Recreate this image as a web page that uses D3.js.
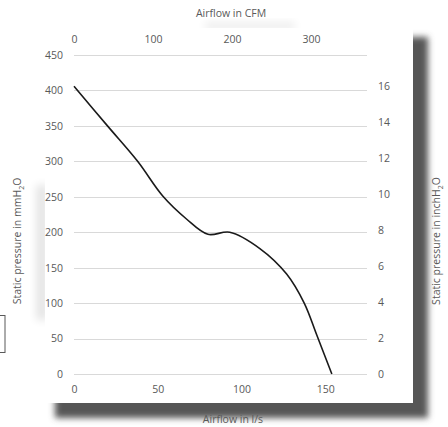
<!DOCTYPE html>
<html><head><meta charset="utf-8">
<script src="https://cdn.jsdelivr.net/npm/d3@7"></script>
<style>
body{margin:0;background:#fff;}
svg{display:block;font-family:"Open Sans","Liberation Sans",sans-serif;}
</style></head>
<body><svg id="c" width="448" height="427"></svg>
<script>
// Data: airflow (l/s) vs static pressure (mmH2O)
const airflowLs = [0, 20, 38, 53, 67, 80, 93, 111, 127, 137.5, 145, 154];
const pressureMm = [406, 350, 300, 251, 219, 197, 200, 177, 141, 100, 55, 0];
const bottomTicks = [0, 50, 100, 150];
const topTicks = [0, 100, 200, 300];
const leftTicks = [0, 50, 100, 150, 200, 250, 300, 350, 400, 450];
const rightTicks = [0, 2, 4, 6, 8, 10, 12, 14, 16];
const LS_TO_CFM = 2.11888;
const MM_TO_IN = 1 / 25.4;

const svg = d3.select("#c");
const defs = svg.append("defs");
defs.append("filter").attr("id","sh").attr("x","-20%").attr("y","-20%").attr("width","140%").attr("height","140%")
  .append("feGaussianBlur").attr("stdDeviation", 3);
defs.append("filter").attr("id","sh2").attr("x","-50%").attr("y","-50%").attr("width","200%").attr("height","200%")
  .append("feGaussianBlur").attr("stdDeviation", 4);

// decorative shadows
svg.append("rect").attr("x",205).attr("y",22).attr("width",90).attr("height",8)
  .attr("fill","#000").attr("opacity",0.07).attr("filter","url(#sh2)");
svg.append("rect").attr("x",36).attr("y",185).attr("width",12).attr("height",135)
  .attr("fill","#000").attr("opacity",0.1).attr("filter","url(#sh2)");
svg.append("rect").attr("x",55).attr("y",37).attr("width",373).attr("height",381)
  .attr("fill","#575757").attr("filter","url(#sh)");
svg.append("rect").attr("x",45).attr("y",28).attr("width",368).attr("height",375).attr("fill","#fff");

// small partial box at left edge
svg.append("rect").attr("x",-10).attr("y",315.5).attr("width",15).attr("height",37)
  .attr("fill","#fff").attr("stroke","#595959").attr("stroke-width",1);

const x = d3.scaleLinear().domain([0,175]).range([74,367]);
const xTop = d3.scaleLinear().domain([0,175*LS_TO_CFM]).range([74,367]);
const y = d3.scaleLinear().domain([0,450]).range([374,55]);
const yR = d3.scaleLinear().domain([0,450*MM_TO_IN]).range([374,55]);

// gridlines
svg.append("g").selectAll("line").data(leftTicks).join("line")
  .attr("x1",74).attr("x2",367).attr("y1",d=>Math.round(y(d))+0.5).attr("y2",d=>Math.round(y(d))+0.5)
  .attr("stroke","#d9d9d9").attr("stroke-width",1);

const tcol = "#595959", fs = "10.5px";
function styleAxis(g){
  g.select(".domain").remove();
  g.selectAll(".tick line").remove();
  g.selectAll("text").attr("fill",tcol).style("font-size",fs).style("font-family",'"Open Sans","Liberation Sans",sans-serif');
}
svg.append("g").attr("transform","translate(0,383)")
  .call(d3.axisBottom(x).tickValues(bottomTicks).tickSize(0).tickPadding(3)).call(styleAxis);
svg.append("g").attr("transform","translate(0,43)")
  .call(d3.axisTop(xTop).tickValues(topTicks).tickSize(0).tickPadding(0)).call(styleAxis);
svg.append("g").attr("transform","translate(63,0)")
  .call(d3.axisLeft(y).tickValues(leftTicks).tickSize(0).tickPadding(0)).call(styleAxis);
svg.append("g").attr("transform","translate(378,0)")
  .call(d3.axisRight(yR).tickValues(rightTicks).tickSize(0).tickPadding(0)).call(styleAxis);

// curve
const pts = airflowLs.map((a,i)=>[a, pressureMm[i]]);
svg.append("path").datum(pts)
  .attr("d", d3.line().x(d=>x(d[0])).y(d=>y(d[1])).curve(d3.curveCatmullRom.alpha(0.5)))
  .attr("fill","none").attr("stroke","#1a1a1a").attr("stroke-width",1.6);

// titles
const tf = "10.5px";
svg.append("text").attr("x",231).attr("y",17).attr("text-anchor","middle")
  .attr("fill",tcol).style("font-size",tf).text("Airflow in CFM");
svg.append("text").attr("x",233).attr("y",423).attr("text-anchor","middle")
  .attr("fill",tcol).style("font-size",tf).text("Airflow in l/s");
const lt = svg.append("text").attr("transform","translate(21,241) rotate(-90)").attr("text-anchor","middle")
  .attr("fill",tcol).style("font-size",tf);
lt.append("tspan").text("Static pressure in mmH");
lt.append("tspan").attr("dy",2.5).style("font-size","7px").text("2");
lt.append("tspan").attr("dy",-2.5).text("O");
const rt = svg.append("text").attr("transform","translate(440,241) rotate(-90)").attr("text-anchor","middle")
  .attr("fill",tcol).style("font-size",tf);
rt.append("tspan").text("Static pressure in inchH");
rt.append("tspan").attr("dy",2.5).style("font-size","7px").text("2");
rt.append("tspan").attr("dy",-2.5).text("O");
</script></body></html>
